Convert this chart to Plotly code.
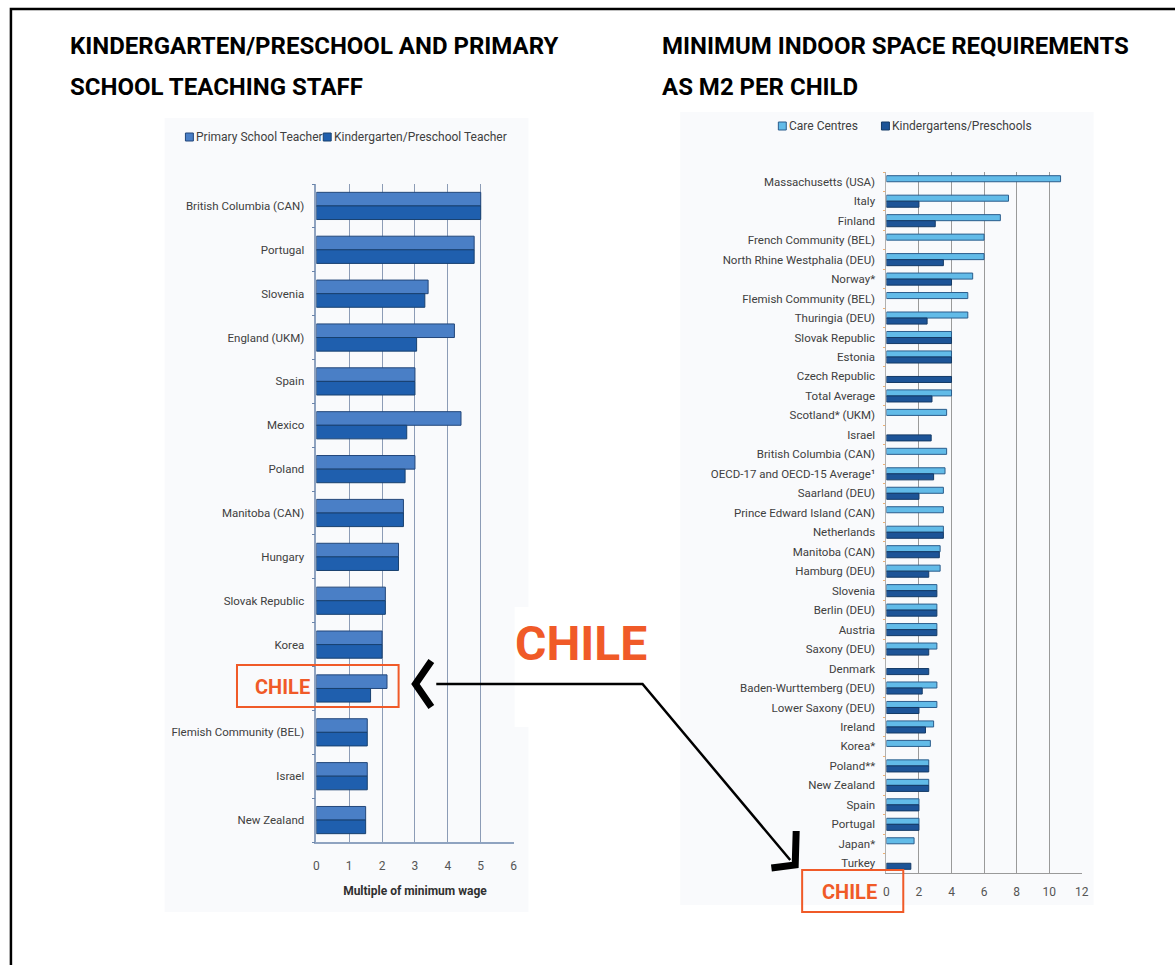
import plotly.graph_objects as go

W, H = 1175, 965

def px(x):
    return x / W

def py(y):
    return 1 - y / H

# ---- Left chart: teacher salaries as multiple of minimum wage ----
teach_regions = [
    "British Columbia (CAN)", "Portugal", "Slovenia", "England (UKM)", "Spain",
    "Mexico", "Poland", "Manitoba (CAN)", "Hungary", "Slovak Republic", "Korea",
    "Chile", "Flemish Community (BEL)", "Israel", "New Zealand",
]
primary_teacher = [5.0, 4.8, 3.4, 4.2, 3.0, 4.4, 3.0, 2.65, 2.5, 2.1, 2.0, 2.15, 1.55, 1.55, 1.5]
kinder_teacher = [5.0, 4.8, 3.3, 3.05, 3.0, 2.75, 2.7, 2.65, 2.5, 2.1, 2.0, 1.65, 1.55, 1.55, 1.5]
teach_ticks = [0, 1, 2, 3, 4, 5, 6]

# ---- Right chart: minimum indoor space (m2 per child) ----
space_regions = [
    "Massachusetts (USA)", "Italy", "Finland", "French Community (BEL)",
    "North Rhine Westphalia (DEU)", "Norway*", "Flemish Community (BEL)",
    "Thuringia (DEU)", "Slovak Republic", "Estonia", "Czech Republic",
    "Total Average", "Scotland* (UKM)", "Israel", "British Columbia (CAN)",
    "OECD-17 and OECD-15 Average¹", "Saarland (DEU)", "Prince Edward Island (CAN)",
    "Netherlands", "Manitoba (CAN)", "Hamburg (DEU)", "Slovenia", "Berlin (DEU)",
    "Austria", "Saxony (DEU)", "Denmark", "Baden-Wurttemberg (DEU)",
    "Lower Saxony (DEU)", "Ireland", "Korea*", "Poland**", "New Zealand",
    "Spain", "Portugal", "Japan*", "Turkey",
]
care_centres = [10.7, 7.5, 7.0, 6.0, 6.0, 5.3, 5.0, 5.0, 4.0, 4.0, None, 4.0,
                3.7, None, 3.7, 3.6, 3.5, 3.5, 3.5, 3.3, 3.3, 3.1, 3.1, 3.1,
                3.1, None, 3.1, 3.1, 2.9, 2.7, 2.6, 2.6, 2.0, 2.0, 1.7, None]
kinder_schools = [None, 2.0, 3.0, None, 3.5, 4.0, None, 2.5, 4.0, 4.0, 4.0, 2.8,
                  None, 2.75, None, 2.9, 2.0, None, 3.5, 3.25, 2.6, 3.1, 3.1, 3.1,
                  2.6, 2.6, 2.2, 2.0, 2.4, None, 2.6, 2.6, 2.0, 2.0, None, 1.5]
space_ticks = [0, 2, 4, 6, 8, 10, 12]

LABEL_FONT = "Roboto, Liberation Sans, sans-serif"
TITLE_FONT = "Roboto, Liberation Sans, sans-serif"
ORANGE = "#f05a28"

fig = go.Figure()

fig.add_trace(go.Bar(
    y=teach_regions, x=primary_teacher, orientation="h", name="Primary School Teacher",
    marker=dict(color="#4a7fc6", line=dict(color="#23477a", width=1)),
    xaxis="x", yaxis="y", showlegend=False,
))
fig.add_trace(go.Bar(
    y=teach_regions, x=kinder_teacher, orientation="h", name="Kindergarten/Preschool Teacher",
    marker=dict(color="#1f5fae", line=dict(color="#18406f", width=1)),
    xaxis="x", yaxis="y", showlegend=False,
))
fig.add_trace(go.Bar(
    y=space_regions, x=care_centres, orientation="h", name="Care Centres",
    marker=dict(color="#62bbe8", line=dict(color="#2b5d8c", width=1)),
    xaxis="x2", yaxis="y2", showlegend=False,
))
fig.add_trace(go.Bar(
    y=space_regions, x=kinder_schools, orientation="h", name="Kindergartens/Preschools",
    marker=dict(color="#1d5497", line=dict(color="#143a66", width=1)),
    xaxis="x2", yaxis="y2", showlegend=False,
))

teach_ticktext = ["" if r == "Chile" else r for r in teach_regions]

fig.update_layout(
    width=W, height=H,
    margin=dict(l=0, r=0, t=0, b=0),
    paper_bgcolor="white",
    plot_bgcolor="rgba(0,0,0,0)",
    barmode="group",
    bargap=0.38,
    bargroupgap=0,
    font=dict(family=LABEL_FONT, size=12, color="#404040"),
    xaxis=dict(
        domain=[px(316), px(515)], range=[0, 6], tickvals=teach_ticks,
        showgrid=True, gridcolor="#8c9cb6", gridwidth=1, zeroline=False,
        showline=True, linecolor="#8fa3c0", linewidth=1.5,
        ticks="", tickfont=dict(size=12, color="#555555"), anchor="y",
        ticklabelstandoff=12,
        title=dict(text="<b>Multiple of minimum wage</b>",
                   font=dict(size=12, color="#303030"), standoff=14),
        fixedrange=True,
    ),
    yaxis=dict(
        domain=[py(842), py(184)], type="category",
        categoryorder="array", categoryarray=teach_regions,
        range=[len(teach_regions) - 0.5, -0.5],
        tickvals=teach_regions, ticktext=teach_ticktext,
        showline=True, linecolor="#8fa3c0", linewidth=1.5,
        ticks="outside", tickson="boundaries", ticklen=3, tickcolor="#6a84aa",
        showgrid=False, tickfont=dict(size=11.5, color="#404040"),
        ticklabelstandoff=8, anchor="x", fixedrange=True,
    ),
    xaxis2=dict(
        domain=[px(891), px(1088)], range=[0, 12], tickvals=space_ticks,
        showgrid=True, gridcolor="#9a9a9a", gridwidth=1, zeroline=False,
        showline=True, linecolor="#9a9a9a", linewidth=1,
        ticks="", tickfont=dict(size=12, color="#555555"), anchor="y2",
        ticklabelstandoff=8, fixedrange=True,
    ),
    yaxis2=dict(
        domain=[py(873), py(172)], type="category",
        categoryorder="array", categoryarray=space_regions,
        range=[len(space_regions) - 0.5, -0.5],
        showline=True, linecolor="#b0b0b0", linewidth=1,
        ticks="outside", tickson="boundaries", ticklen=2, tickcolor="#f0b070",
        showgrid=False, tickfont=dict(size=11.5, color="#404040"),
        ticklabelstandoff=8, anchor="x2", fixedrange=True,
    ),
)

shapes = []
# faint chart panel backgrounds
shapes.append(dict(type="rect", xref="paper", yref="paper", layer="below",
                   x0=px(163), x1=px(530), y0=py(912), y1=py(118),
                   fillcolor="#f9fafc", line=dict(width=0)))
shapes.append(dict(type="rect", xref="paper", yref="paper", layer="below",
                   x0=px(683), x1=px(1100), y0=py(905), y1=py(112),
                   fillcolor="#f9fafc", line=dict(width=0)))
# white patch behind the large callout word
shapes.append(dict(type="rect", xref="paper", yref="paper", layer="below",
                   x0=px(516), x1=px(662), y0=py(727), y1=py(607),
                   fillcolor="white", line=dict(width=0)))
# outer frame
shapes.append(dict(type="rect", xref="paper", yref="paper",
                   x0=px(8), x1=px(1190), y0=py(990), y1=py(9),
                   fillcolor="rgba(0,0,0,0)", line=dict(color="black", width=2.5)))

# legend swatches
def swatch(x, y, color, edge):
    shapes.append(dict(type="rect", xref="paper", yref="paper",
                       x0=px(x), x1=px(x + 8), y0=py(y + 4), y1=py(y - 4),
                       fillcolor=color, line=dict(color=edge, width=1)))

swatch(184, 137, "#4a7fc6", "#23477a")
swatch(323, 137, "#1f5fae", "#18406f")
swatch(782, 126, "#62bbe8", "#2b5d8c")
swatch(886, 126, "#1d5497", "#143a66")

# callout boxes
shapes.append(dict(type="rect", xref="paper", yref="paper",
                   x0=px(236), x1=px(399), y0=py(707), y1=py(665),
                   fillcolor="rgba(0,0,0,0)", line=dict(color=ORANGE, width=2)))
shapes.append(dict(type="rect", xref="paper", yref="paper",
                   x0=px(806), x1=px(908), y0=py(912), y1=py(870),
                   fillcolor="rgba(0,0,0,0)", line=dict(color=ORANGE, width=2)))

# connector line with chevron heads
def path(points):
    d = "M " + " L ".join(f"{px(a):.5f},{py(b):.5f}" for a, b in points)
    return d

shapes.append(dict(type="path", xref="paper", yref="paper",
                   path=path([(437, 684), (645, 684), (794, 860)]),
                   line=dict(color="black", width=2.5)))
shapes.append(dict(type="path", xref="paper", yref="paper",
                   path=path([(432, 661), (416, 684), (432, 707)]),
                   line=dict(color="black", width=7)))
shapes.append(dict(type="path", xref="paper", yref="paper",
                   path=path([(800, 831), (799, 865), (775, 868)]),
                   line=dict(color="black", width=7)))

annotations = []

def text(x, y, s, size, color="#404040", family=LABEL_FONT, anchor="left"):
    annotations.append(dict(xref="paper", yref="paper", x=px(x), y=py(y),
                            text=s, showarrow=False, xanchor=anchor, yanchor="middle",
                            font=dict(family=family, size=size, color=color)))

# panel titles
text(66, 46, "<b>KINDERGARTEN/PRESCHOOL AND PRIMARY</b>", 24, "black", TITLE_FONT)
text(66, 87, "<b>SCHOOL TEACHING STAFF</b>", 24, "black", TITLE_FONT)
text(663, 46, "<b>MINIMUM INDOOR SPACE REQUIREMENTS</b>", 24, "black", TITLE_FONT)
text(663, 87, "<b>AS M2 PER CHILD</b>", 24, "black", TITLE_FONT)

# legends
text(193, 137, "Primary School Teacher", 12)
text(332, 137, "Kindergarten/Preschool Teacher", 12)
text(791, 126, "Care Centres", 12)
text(895, 126, "Kindergartens/Preschools", 12)

# callout words
text(583, 643, "<b>CHILE</b>", 48, ORANGE, TITLE_FONT, anchor="center")
text(282, 687, "<b>CHILE</b>", 20, ORANGE, TITLE_FONT, anchor="center")
text(854, 892, "<b>CHILE</b>", 20, ORANGE, TITLE_FONT, anchor="center")

fig.update_layout(shapes=shapes, annotations=annotations)

fig.write_html("out.html")
